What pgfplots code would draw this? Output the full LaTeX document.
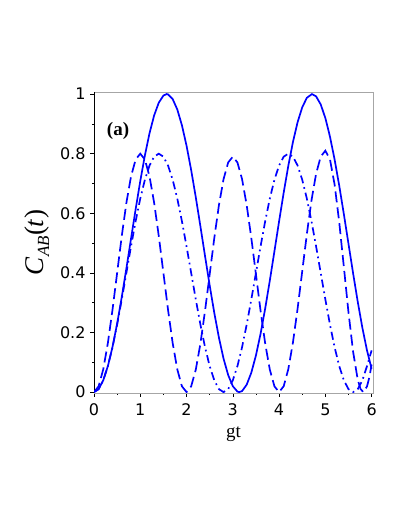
\documentclass[border=0pt]{standalone}
\usepackage{fontspec}
\setmainfont{Liberation Serif}
\newfontfamily\tickfont{DejaVu Sans}
\usepackage{pgfplots}
\pgfplotsset{compat=1.18}
\definecolor{mblue}{RGB}{0,0,255}
\begin{document}
\begin{tikzpicture}
\useasboundingbox (0pt,0pt) rectangle (407pt,527pt);
\begin{axis}[
  at={(94pt,134pt)}, anchor=south west, scale only axis,
  width=279pt, height=301pt,
  xmin=0, xmax=6.03, ymin=-0.003, ymax=1.007,
  axis line style={draw=gray!70},
  tick pos=left, tick align=outside,
  major tick length=4pt, minor tick length=2pt,
  tick style={black, line width=0.6pt},
  xtick={0,1,2,3,4,5,6}, ytick={0,0.2,0.4,0.6,0.8,1},
  minor x tick num=1, minor y tick num=1,
  /pgf/number format/assume math mode=true,
  ticklabel style={font=\tickfont\fontsize{16}{16}\selectfont},
  xticklabel style={yshift=-3pt},
  yticklabel style={xshift=-1pt},
  xlabel={gt},
  xlabel style={font=\fontsize{19}{19}\selectfont, at={(axis description cs:0.5,0)}, anchor=center, yshift=-41pt},
  ylabel={\textit{C}\raisebox{-0.5ex}{\fontsize{17}{17}\selectfont\textit{AB}}(\textit{t})},
  ylabel style={font=\fontsize{27}{27}\selectfont, at={(axis description cs:-0.205,0.5)}, anchor=center},
  clip=true,
]
\draw[black, line width=0.6pt] (rel axis cs:0,1) -- (rel axis cs:0,0) -- (rel axis cs:1,0);
\addplot[mblue, line width=1.7pt] coordinates {
(0,0) (0.1,0.0100) (0.2,0.0395) (0.3,0.0873) (0.4,0.1516) (0.5,0.2298) (0.6,0.3188) (0.7,0.4150) (0.8,0.5146) (0.9,0.6136) (1.0,0.7081) (1.1,0.7943) (1.2,0.8687) (1.3,0.9285) (1.4,0.9711) (1.5,0.9950) (1.57,1.0) (1.6,0.9991) (1.7,0.9834) (1.8,0.9484) (1.9,0.8955) (2.0,0.8268) (2.1,0.7451) (2.2,0.6537) (2.3,0.5561) (2.4,0.4563) (2.5,0.3582) (2.6,0.2657) (2.7,0.1827) (2.8,0.1122) (2.9,0.0572) (3.0,0.0199) (3.1,0.0017) (3.14,0.0) (3.2,0.0034) (3.3,0.0249) (3.4,0.0653) (3.5,0.1231) (3.6,0.1958) (3.7,0.2807) (3.8,0.3744) (3.9,0.4731) (4.0,0.5728) (4.1,0.6696) (4.2,0.7597) (4.3,0.8394) (4.4,0.9055) (4.5,0.9555) (4.6,0.9874) (4.71,1.0) (4.8,0.9924) (4.9,0.9653) (5.0,0.9195) (5.1,0.8571) (5.2,0.7806) (5.3,0.6927) (5.4,0.5972) (5.5,0.4977) (5.6,0.3985) (5.7,0.3033) (5.8,0.2159) (5.9,0.1398) (6.0,0.0781)
};
\addplot[mblue, line width=1.7pt, dash pattern=on 11pt off 5pt] coordinates {
(0,0) (0.1,0.0196) (0.2,0.0764) (0.3,0.1649) (0.4,0.2764) (0.5,0.4) (0.6,0.5236) (0.7,0.6351) (0.8,0.7236) (0.9,0.7804) (1.0,0.8) (1.1,0.7804) (1.2,0.7236) (1.3,0.6351) (1.4,0.5236) (1.5,0.4) (1.6,0.2764) (1.7,0.1649) (1.8,0.0764) (1.9,0.0196) (2.0,0) (2.1,0.0193) (2.2,0.0754) (2.3,0.1628) (2.4,0.2729) (2.5,0.395) (2.6,0.5171) (2.7,0.6272) (2.8,0.7146) (2.9,0.7706) (3.0,0.79) (3.1,0.7706) (3.2,0.7146) (3.3,0.6272) (3.4,0.5171) (3.5,0.395) (3.6,0.2729) (3.7,0.1628) (3.8,0.0754) (3.9,0.0193) (4.0,0) (4.1,0.0198) (4.2,0.0774) (4.3,0.1669) (4.4,0.2799) (4.5,0.405) (4.6,0.5301) (4.7,0.6430) (4.8,0.7326) (4.9,0.7902) (5.0,0.81) (5.1,0.781) (5.2,0.6965) (5.3,0.5703) (5.4,0.4201) (5.5,0.2678) (5.6,0.1353) (5.7,0.0418) (5.76,0.0107) (5.82,0) (5.9,0.0189) (5.95,0.0492) (6.0,0.0926)
};
\addplot[mblue, line width=1.7pt, dash pattern=on 8pt off 4pt on 1.7pt off 4pt] coordinates {
(0,0) (0.1,0.0100) (0.2,0.0396) (0.3,0.0873) (0.4,0.1506) (0.5,0.2264) (0.6,0.3110) (0.7,0.4) (0.8,0.4890) (0.9,0.5736) (1.0,0.6494) (1.1,0.7127) (1.2,0.7604) (1.3,0.7900) (1.4,0.8) (1.5,0.7900) (1.6,0.7604) (1.7,0.7127) (1.8,0.6494) (1.9,0.5736) (2.0,0.4890) (2.1,0.4) (2.2,0.3110) (2.3,0.2264) (2.4,0.1506) (2.5,0.0873) (2.6,0.0396) (2.7,0.0100) (2.8,0) (2.9,0.0100) (3.0,0.0396) (3.1,0.0873) (3.2,0.1506) (3.3,0.2264) (3.4,0.3110) (3.5,0.4) (3.6,0.4890) (3.7,0.5736) (3.8,0.6494) (3.9,0.7127) (4.0,0.7604) (4.1,0.7900) (4.2,0.8) (4.3,0.7900) (4.4,0.7604) (4.5,0.7127) (4.6,0.6494) (4.7,0.5736) (4.8,0.4890) (4.9,0.4) (5.0,0.3110) (5.1,0.2264) (5.2,0.1506) (5.3,0.0873) (5.4,0.0396) (5.5,0.0100) (5.6,0) (5.7,0.0100) (5.8,0.0396) (5.9,0.0873) (6.0,0.14)
};
\node[font=\bfseries\fontsize{19}{19}\selectfont] at (axis cs:0.52,0.876) {(a)};
\end{axis}
\end{tikzpicture}
\end{document}
